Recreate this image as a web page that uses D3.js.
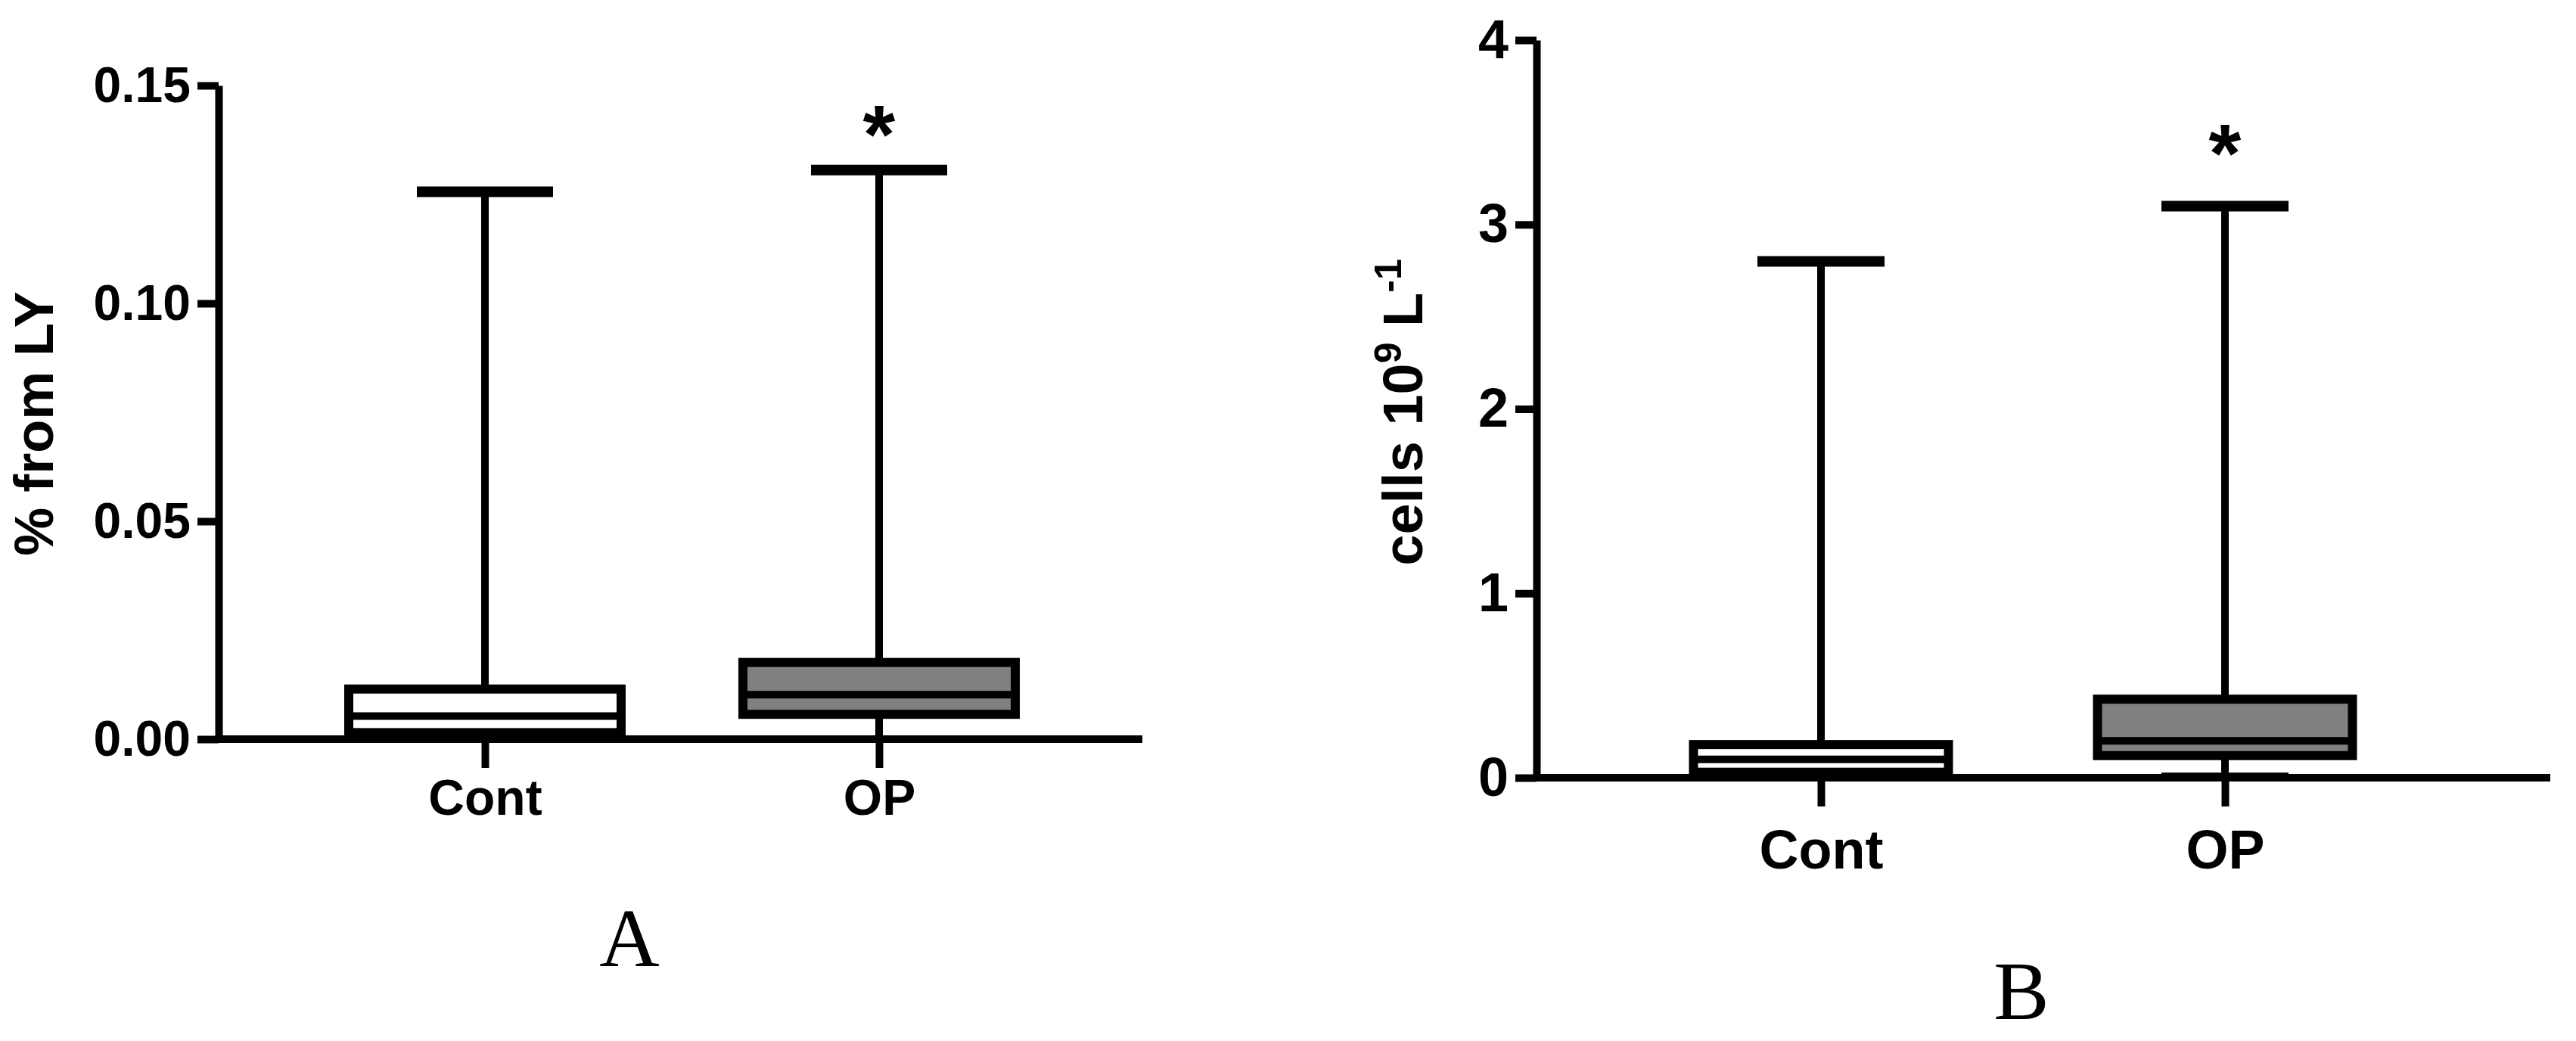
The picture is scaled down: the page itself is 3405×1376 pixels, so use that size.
<!DOCTYPE html><html><head><script src="https://d3js.org/d3.v7.min.js"></script>
<style>body{margin:0;background:#fff}</style></head><body><svg id="c" width="3405" height="1376"></svg>
<script>
const categories=["Cont","OP"];
const fills=["#ffffff","#808080"];
// [min,q1,median,q3,max]
const seriesA=[[0.0,0.0015,0.0053,0.0115,0.1256],[0.0005,0.0057,0.0102,0.0176,0.1306]];
const seriesB=[[0.0,0.03,0.10,0.18,2.80],[0.02,0.12,0.20,0.426,3.10]];
const ticksA=[0,0.05,0.10,0.15];
const ticksB=[0,1,2,3,4];
const svg=d3.select("#c");
const F="'Liberation Sans',Arial,sans-serif";
function panel(o){
  const g=svg.append("g");
  const y=d3.scaleLinear().domain(o.dom).range([o.y0,o.y1]);
  const x=d3.scalePoint().domain(categories).range([o.c0,o.c1]);
  const ya=g.append("g").attr("transform",`translate(${o.ax},0)`).call(d3.axisLeft(y).tickValues(o.ticks).tickFormat(o.fmt).tickSize(28).tickSizeOuter(0));
  const xa=g.append("g").attr("transform",`translate(0,${o.y0})`).call(d3.axisBottom(x).tickSize(38).tickSizeOuter(0));
  xa.select(".domain").attr("d",`M${o.ax},0H${o.xend}`);
  [ya,xa].forEach(a=>{a.selectAll("path,line").attr("stroke","#000").attr("stroke-width",10);
    a.selectAll("text").attr("font-family",F).attr("font-weight","bold").attr("font-size",o.fs).attr("fill","#000");});
  ya.selectAll("text").attr("dx",-6);
  xa.selectAll("text").attr("dy",o.xdy);
  o.data.forEach((d,i)=>{
    const cx=x(categories[i]),hw=o.bw/2,cw=o.cw/2;
    g.append("line").attr("x1",cx).attr("x2",cx).attr("y1",y(d[0])).attr("y2",y(d[4])).attr("stroke","#000").attr("stroke-width",10);
    [d[0],d[4]].forEach(v=>g.append("line").attr("x1",cx-cw).attr("x2",cx+cw).attr("y1",y(v)).attr("y2",y(v)).attr("stroke","#000").attr("stroke-width",v===d[4]?14:4));
    g.append("rect").attr("x",cx-hw).attr("width",o.bw).attr("y",y(d[3])).attr("height",y(d[1])-y(d[3])).attr("fill",fills[i]).attr("stroke","#000").attr("stroke-width",12);
    g.append("line").attr("x1",cx-hw).attr("x2",cx+hw).attr("y1",y(d[2])).attr("y2",y(d[2])).attr("stroke","#000").attr("stroke-width",10);
  });
  g.append("text").attr("x",x("OP")).attr("y",o.starY).attr("text-anchor","middle").attr("font-family",F).attr("font-weight","bold").attr("font-size",110).text("*");
  const t=g.append("text").attr("transform",`translate(${o.lx},${o.ly}) rotate(-90)`).attr("text-anchor","middle").attr("font-family",F).attr("font-weight","bold").attr("font-size",o.lfs);
  o.label(t);
  g.append("text").attr("x",o.px).attr("y",o.py).attr("text-anchor","middle").attr("font-family","'Liberation Serif','Times New Roman',serif").attr("font-size",110).text(o.pl);
}
panel({dom:[0,0.15],y0:977,y1:113,c0:641,c1:1162,ax:289,xend:1510,ticks:ticksA,fmt:d3.format(".2f"),fs:66,xdy:"0.9em",
  data:seriesA,bw:360,cw:180,starY:215,lx:70,ly:560,lfs:72,px:832,py:1277,pl:"A",
  label:t=>t.text("% from LY")});
panel({dom:[0,4],y0:1028,y1:53,c0:2407,c1:2941,ax:2031,xend:3371,ticks:ticksB,fmt:d3.format("d"),fs:72,xdy:"1.1em",
  data:seriesB,bw:337,cw:168,starY:240,lx:1880,ly:545,lfs:74,px:2672,py:1347,pl:"B",
  label:t=>{t.append("tspan").text("cells 10");t.append("tspan").attr("dy",-28).attr("font-size",50).text("9");t.append("tspan").attr("dy",28).text(" L");t.append("tspan").attr("dy",-28).attr("font-size",50).text("-1");}});
</script></body></html>
